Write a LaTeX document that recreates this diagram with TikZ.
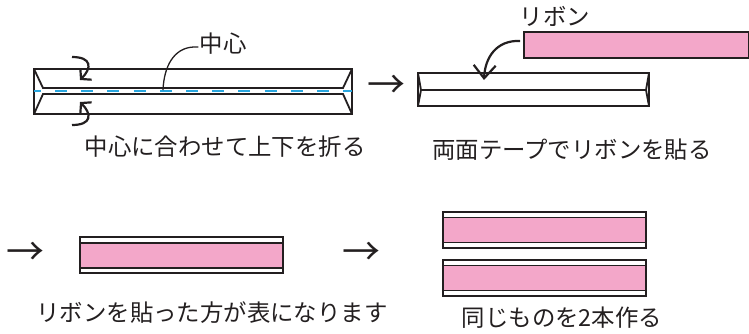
\documentclass[tikz,border=0pt]{standalone}
\usepackage{fontspec}
\setmainfont{Noto Sans CJK JP}
\usetikzlibrary{arrows.meta, calc, positioning}
\definecolor{ink}{RGB}{35,31,32}
\definecolor{ribbonpink}{RGB}{243,167,201}
\definecolor{foldblue}{RGB}{41,166,222}

\begin{document}
\begin{tikzpicture}[x=1pt, y=-1pt,
	every node/.style={font=\fontsize{23.4}{26}\selectfont, text=ink, inner sep=0pt},
	nextarrow/.style={font=\fontsize{38}{38}\selectfont},
	outline/.style={draw=ink, line width=1.8pt},
	ribbon/.style={draw=ink, line width=1.9pt, fill=ribbonpink},
	centerline/.style={draw=foldblue, line width=1.8pt, dash pattern=on 12pt off 14.2pt, dash phase=5.2pt},
	foldarrow/.style={draw=ink, line width=2.2pt, -{Straight Barb[length=7pt, width=16pt]}},
	ribarrow/.style={draw=ink, line width=2.2pt, -{Straight Barb[length=13pt, width=22pt]}},
	leader/.style={draw=ink, line width=1.3pt}]

\useasboundingbox (0,0) rectangle (749,333);

% fold to the centre
\draw[outline] (34,69) rectangle (352,114);
\draw[outline] (34,69) -- (43,88) -- (343,88) -- (352,69);
\draw[outline] (34,114) -- (43,94) -- (343,94) -- (352,114);
\draw[centerline] (34,91) -- (352,91);

\coordinate (upfrom) at (72,57);
\coordinate (upto) at (80,80);
\coordinate (lowfrom) at (72,125);
\coordinate (lowto) at (80,102);
\draw[foldarrow] (upfrom) .. controls (92,57) and (92,68) .. (upto);
\draw[foldarrow] (lowfrom) .. controls (92,125) and (92,114) .. (lowto);

\node (centre) at (223,44) {中心};
\coordinate (centrept) at (163,90);
\draw[leader] ($(centre.west)+(-1,3)$) -- ++(-5,0) .. controls (174,48) and (164,66) .. (centrept);

\node (step1) at (225,147) {中心に合わせて上下を折る};
\node[nextarrow] (next1) at (386,87) {→};

% ribbon on tape
\draw[outline] (418,73) rectangle (649,106);
\draw[outline] (418,73) -- (421,90) -- (418,106);
\draw[outline] (649,73) -- (646,90) -- (649,106);
\draw[ink, line width=2.8pt] (421,90) -- (646,90);

\node[ribbon, anchor=north west, minimum width=225pt, minimum height=26pt] (rib) at (523,31) {};
\node (ribtext) at (555,16) {リボン};
\coordinate (ribto) at (484,80);
\draw[ribarrow] ($(rib.west)+(-3,-4)$) .. controls (496,40) and (485,58) .. (ribto);

\node (step2) at (572,150) {両面テープでリボンを貼る};

% finished strips
\node[nextarrow] (next2) at (25,254) {→};
\draw[outline] (80,237) rectangle (283,273);
\draw[ribbon] (80,243) rectangle (283,268);
\node (step3) at (212,313) {リボンを貼った方が表になります};

\node[nextarrow] (next3) at (361,254) {→};
\foreach \top in {212,260}{
	\draw[outline] (443,\top) rectangle (646,\top+36);
	\draw[ribbon] (443,\top+5.5) rectangle (646,\top+30.5);
}
\node (step4) at (562,318) {同じものを2本作る};

\end{tikzpicture}
\end{document}
